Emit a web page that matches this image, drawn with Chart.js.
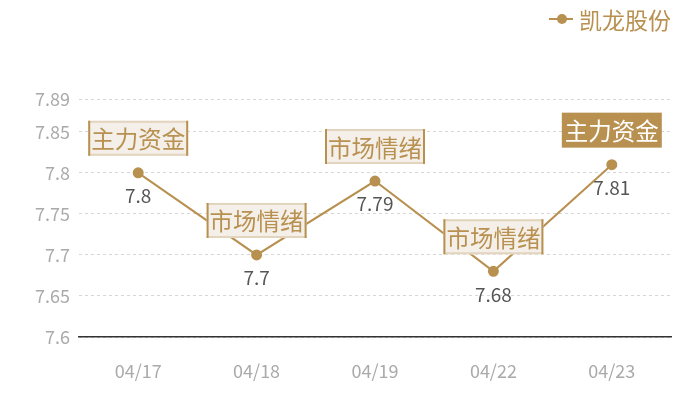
<!DOCTYPE html>
<html>
<head>
<meta charset="utf-8">
<script src="https://cdn.jsdelivr.net/npm/chart.js@4.4.1/dist/chart.umd.min.js"></script>
<style>
  html, body { margin: 0; padding: 0; background: #fff; }
</style>
</head>
<body>
<canvas id="c" width="700" height="400"></canvas>
<script>
'use strict';

const seriesName = '凯龙股份';
const dates = ['04/17', '04/18', '04/19', '04/22', '04/23'];
const prices = [7.8, 7.7, 7.79, 7.68, 7.81];
const tags = ['主力资金', '市场情绪', '市场情绪', '市场情绪', '主力资金'];
const tagFilled = [false, false, false, false, true];
const yTicks = [7.6, 7.65, 7.7, 7.75, 7.8, 7.85, 7.89];

const gold = '#b8904f';
const fontFamily = '"Noto Sans CJK SC", "Noto Sans", sans-serif';

// labels, tag boxes and legend drawn on top of the line
const markPlugin = {
  id: 'marks',
  afterDatasetsDraw(chart) {
    const ctx = chart.ctx;
    const meta = chart.getDatasetMeta(0);
    ctx.save();
    meta.data.forEach((pt, i) => {
      const x = pt.x, y = pt.y;

      ctx.font = '19px ' + fontFamily;
      ctx.fillStyle = '#555';
      ctx.textAlign = 'center';
      ctx.textBaseline = 'middle';
      ctx.fillText(String(prices[i]), x, y + 23);

      const w = 100, h = 35;
      const bx = x - w / 2, by = y - 17 - h;
      if (tagFilled[i]) {
        ctx.fillStyle = gold;
        ctx.fillRect(bx, by, w, h);
      } else {
        ctx.fillStyle = '#f4efe8';
        ctx.fillRect(bx, by, w, h);
        ctx.lineWidth = 2;
        ctx.strokeStyle = '#e2d4bd';
        ctx.beginPath();
        ctx.moveTo(bx, by + 1); ctx.lineTo(bx + w, by + 1);
        ctx.moveTo(bx, by + h - 1); ctx.lineTo(bx + w, by + h - 1);
        ctx.stroke();
        ctx.strokeStyle = gold;
        ctx.beginPath();
        ctx.moveTo(bx + 1, by); ctx.lineTo(bx + 1, by + h);
        ctx.moveTo(bx + w - 1, by); ctx.lineTo(bx + w - 1, by + h);
        ctx.stroke();
      }
      ctx.font = '23.5px ' + fontFamily;
      ctx.fillStyle = tagFilled[i] ? '#fff' : gold;
      ctx.fillText(tags[i], x, by + h / 2 + 1);
    });

    // legend
    ctx.strokeStyle = gold;
    ctx.lineWidth = 2;
    ctx.beginPath();
    ctx.moveTo(549, 19); ctx.lineTo(573, 19);
    ctx.stroke();
    ctx.fillStyle = gold;
    ctx.beginPath();
    ctx.arc(562, 19, 5, 0, Math.PI * 2);
    ctx.fill();
    ctx.font = '23px ' + fontFamily;
    ctx.textAlign = 'left';
    ctx.textBaseline = 'middle';
    ctx.fillText(chart.data.datasets[0].label, 579, 20);
    ctx.restore();
  }
};

new Chart(document.getElementById('c'), {
  type: 'line',
  data: {
    labels: dates,
    datasets: [{
      label: seriesName,
      data: prices,
      borderColor: gold,
      backgroundColor: gold,
      borderWidth: 2,
      pointRadius: 4.5,
      pointHoverRadius: 4.5,
      tension: 0,
    }],
  },
  options: {
    responsive: false,
    animation: false,
    layout: { padding: { top: 99, right: 29, left: 0, bottom: 0 } },
    plugins: {
      legend: { display: false },
      tooltip: { enabled: false },
    },
    scales: {
      x: {
        offset: true,
        grid: { display: false, drawTicks: false },
        border: { display: true, color: '#333', width: 1.5 },
        ticks: {
          color: '#aaa',
          padding: 23,
          font: { family: fontFamily, size: 18 },
        },
        afterFit(scale) { scale.height = 63; },
      },
      y: {
        min: 7.6,
        max: 7.89,
        grid: { color: '#d6d6d6', drawTicks: false },
        border: { display: false, dash: [3, 3] },
        ticks: {
          color: '#aaa',
          padding: 9,
          font: { family: fontFamily, size: 18 },
          callback: (v) => String(v),
        },
        afterBuildTicks(scale) {
          scale.ticks = yTicks.map((v) => ({ value: v }));
        },
        afterFit(scale) { scale.width = 79; },
      },
    },
  },
  plugins: [markPlugin],
});
</script>
</body>
</html>
